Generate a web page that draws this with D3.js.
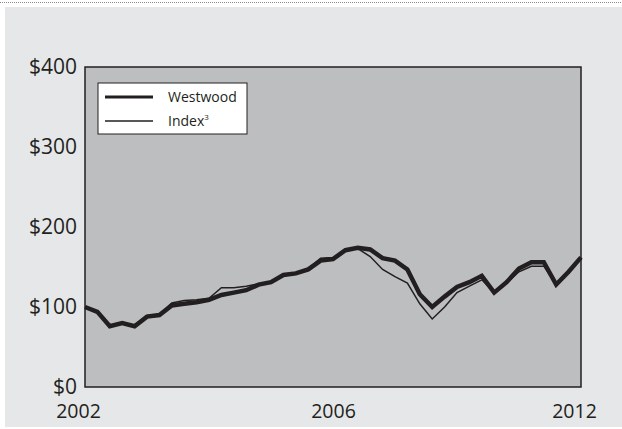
<!DOCTYPE html>
<html>
<head>
<meta charset="utf-8">
<script src="https://cdn.jsdelivr.net/npm/d3@7"></script>
<style>
  html, body { margin: 0; padding: 0; background: #fff; }
  svg { display: block; }
</style>
</head>
<body>
<div id="chart"></div>
<script>
// growth of $100, quarterly points 2002 -> 2012
const westwood = [100, 94, 76, 80, 76, 88, 90, 102, 104, 106, 109, 115, 118, 121, 128, 131,
                  140, 142, 147, 158, 160, 171, 174, 172, 161, 158, 147, 116, 100, 113, 125,
                  131, 139, 118, 131, 148, 156, 156, 128, 144, 162];
const index3 = [100, 94, 77, 81, 77, 89, 91, 105, 108, 109, 111, 124, 124, 126, 129, 131,
                140, 142, 148, 161, 162, 170, 173, 163, 147, 138, 130, 104, 85, 100, 118,
                126, 134, 118, 130, 144, 151, 151, 128, 144, 161];
const xTickIdx = [0, 20, 40];
const xTickLabels = ["2002", "2006", "2012"];
const yTicks = [0, 100, 200, 300, 400];
const seriesNames = ["Westwood", "Index"];

const width = 622;
const height = 429;
const margin = {top: 67, right: 41, bottom: 42, left: 85};
const ink = "#231f20";
const font = '"Open Sans", "Noto Sans", sans-serif';

const svg = d3.select('#chart')
  .append('svg')
  .attr('width', width)
  .attr('height', height)
  .style('font-family', font);

// dotted rule + panel
svg.append('line')
  .attr('x1', 0).attr('x2', width)
  .attr('y1', 2.5).attr('y2', 2.5)
  .attr('stroke', '#8a8c8e')
  .attr('stroke-width', 1)
  .attr('stroke-dasharray', '1,1');

svg.append('rect')
  .attr('x', 5).attr('y', 7)
  .attr('width', width - 5).attr('height', height - 9)
  .attr('fill', '#e6e7e8');

const x = d3.scaleLinear()
  .domain([0, westwood.length - 1])
  .range([margin.left, width - margin.right]);

const y = d3.scaleLinear()
  .domain([0, 400])
  .range([height - margin.bottom, margin.top]);

svg.append('rect')
  .attr('x', x.range()[0])
  .attr('y', y(400))
  .attr('width', x.range()[1] - x.range()[0])
  .attr('height', y(0) - y(400))
  .attr('fill', '#bcbec0')
  .attr('stroke', ink)
  .attr('stroke-width', 1.5);

// y labels
const yAxis = svg.append('g')
  .attr('transform', `translate(${margin.left},0)`)
  .call(d3.axisLeft(y).tickValues(yTicks).tickSize(0).tickPadding(8).tickFormat(d => `$${d}`));
yAxis.select('.domain').remove();
yAxis.selectAll('text')
  .attr('fill', ink)
  .style('font-size', '21px')
  .style('font-family', font);

// x labels (ends sit a little left of the tick, as in the print)
const xAxis = svg.append('g')
  .attr('transform', `translate(0,${y(0)})`)
  .call(d3.axisBottom(x).tickValues(xTickIdx).tickSize(0).tickPadding(0)
    .tickFormat((d, i) => xTickLabels[i]));
xAxis.select('.domain').remove();
xAxis.selectAll('text')
  .attr('fill', ink)
  .attr('dy', null)
  .attr('y', 31)
  .attr('dx', (d, i) => (i === 0 || i === xTickIdx.length - 1) ? -7 : 0)
  .style('font-size', '19.5px')
  .style('font-family', font);

const line = d3.line()
  .x((d, i) => x(i))
  .y(d => y(d))
  .curve(d3.curveLinear);

svg.append('path')
  .datum(westwood)
  .attr('d', line)
  .attr('fill', 'none')
  .attr('stroke', ink)
  .attr('stroke-width', 4.5)
  .attr('stroke-linejoin', 'miter');

svg.append('path')
  .datum(index3)
  .attr('d', line)
  .attr('fill', 'none')
  .attr('stroke', ink)
  .attr('stroke-width', 1.5);

// legend
const lg = svg.append('g').attr('transform', 'translate(98,83)');
lg.append('rect')
  .attr('width', 149).attr('height', 51)
  .attr('fill', '#fff')
  .attr('stroke', ink)
  .attr('stroke-width', 1);

const legendRows = [
  {name: seriesNames[0], w: 3, yy: 14},
  {name: seriesNames[1], w: 1.3, yy: 38}
];
legendRows.forEach(r => {
  lg.append('line')
    .attr('x1', 7).attr('x2', 55)
    .attr('y1', r.yy).attr('y2', r.yy)
    .attr('stroke', ink)
    .attr('stroke-width', r.w);
  const t = lg.append('text')
    .attr('x', 70).attr('y', r.yy + 5)
    .attr('fill', ink)
    .style('font-size', '14px')
    .text(r.name);
  if (r.name === 'Index') {
    t.append('tspan')
      .attr('dy', -6)
      .style('font-size', '8px')
      .text('3');
  }
});
</script>
</body>
</html>
